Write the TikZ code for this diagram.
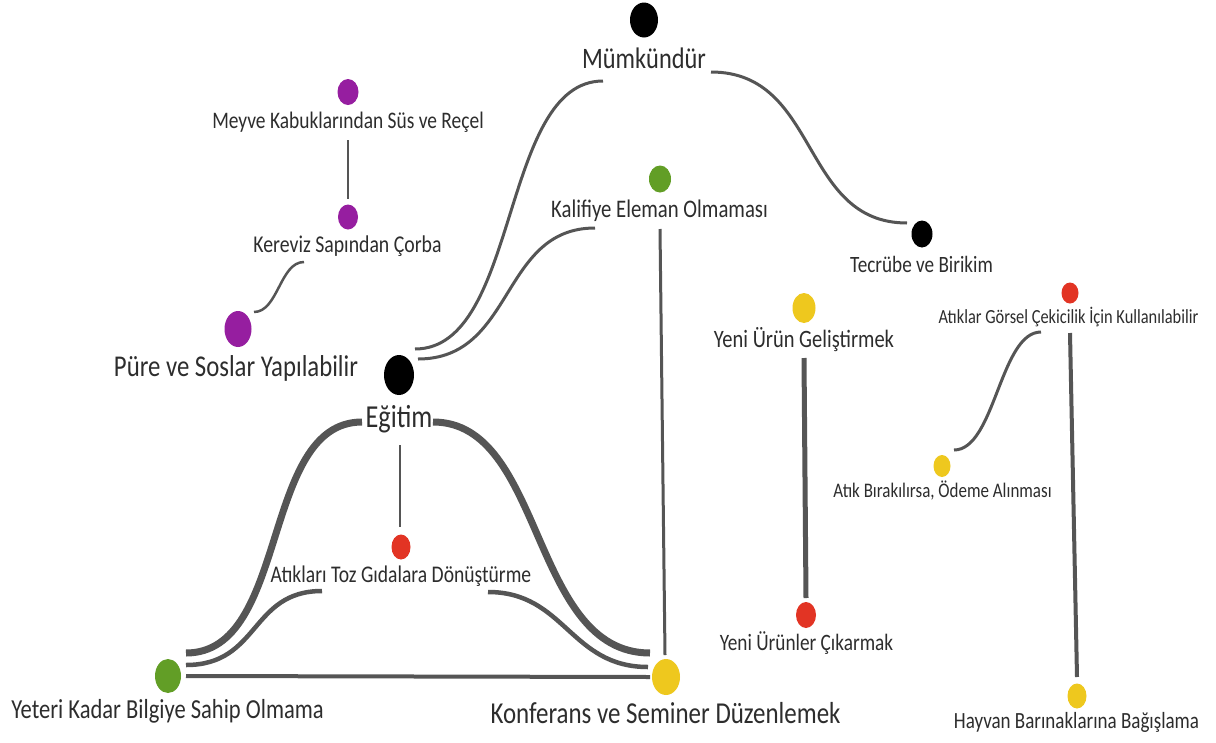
\documentclass[tikz,border=0pt]{standalone}
\usepackage{fontspec}
\setmainfont{Carlito}[FakeStretch=0.82]
\usetikzlibrary{shapes.geometric}
\definecolor{dpurple}{RGB}{150,30,160}
\definecolor{dgreen}{RGB}{98,158,38}
\definecolor{dyellow}{RGB}{238,200,30}
\definecolor{dred}{RGB}{226,52,36}
\definecolor{lgray}{RGB}{85,85,85}
\definecolor{tgray}{RGB}{45,45,45}
\tikzset{
  dot/.style args={#1/#2/#3}{ellipse, draw=none, fill=#1, inner sep=0pt, minimum width=#2pt, minimum height=#3pt},
  lbl/.style={anchor=base, inner sep=0pt, text=tgray, font=\fontsize{#1}{#1}\selectfont},
  conn/.style={draw=lgray, line width=#1pt, line cap=butt},
}
\begin{document}
\begin{tikzpicture}[x=1pt,y=-1pt]
\useasboundingbox[fill=white] (0,0) rectangle (1216,742);

% dots
\node[dot=black/28/35]    (mum)  at (644,20)  {};
\node[dot=dpurple/21/26]  (mey)  at (348,92)  {};
\node[dot=dpurple/20/25]  (ker)  at (348,217) {};
\node[dot=dpurple/27/36]  (pur)  at (238,329) {};
\node[dot=black/30/40]    (egi)  at (399,375) {};
\node[dot=dgreen/22/27]   (kal)  at (660,179) {};
\node[dot=black/21/27]    (tec)  at (922,234) {};
\node[dot=dyellow/23/30]  (yug)  at (804,308) {};
\node[dot=dred/17/21]     (atg)  at (1070,293) {};
\node[dot=dyellow/17/22]  (atb)  at (942,466) {};
\node[dot=dred/20/26]     (yuc)  at (806,615) {};
\node[dot=dred/19/25]     (toz)  at (401,547) {};
\node[dot=dgreen/26/34]   (yet)  at (168,676) {};
\node[dot=dyellow/28/36]  (kon)  at (666,677) {};
\node[dot=dyellow/19/25]  (hay)  at (1077,696) {};

% labels
\node[lbl=29.7] (mumT) at (644,68)  {Mümkündür};
\node[lbl=23.7] (meyT) at (348,128) {Meyve Kabuklarından Süs ve Reçel};
\node[lbl=24.1] (kerT) at (347.5,252) {Kereviz Sapından Çorba};
\node[lbl=30.2] (purT) at (236,376) {Püre ve Soslar Yapılabilir};
\node[lbl=32]   (egiT) at (399,427) {Eğitim};
\node[lbl=25.3] (kalT) at (659.5,217) {Kalifiye Eleman Olmaması};
\node[lbl=23.4] (tecT) at (921.5,272) {Tecrübe ve Birikim};
\node[lbl=25]   (yugT) at (804,347) {Yeni Ürün Geliştirmek};
\node[lbl=20]   (atgT) at (1068.5,323) {Atıklar Görsel Çekicilik İçin Kullanılabilir};
\node[lbl=20.7] (atbT) at (942.5,497) {Atık Bırakılırsa, Ödeme Alınması};
\node[lbl=23.5] (yucT) at (806.5,650) {Yeni Ürünler Çıkarmak};
\node[lbl=23.9] (tozT) at (401,582) {Atıkları Toz Gıdalara Dönüştürme};
\node[lbl=27.5] (yetT) at (167.5,718) {Yeteri Kadar Bilgiye Sahip Olmama};
\node[lbl=30.4] (konT) at (665.5,723) {Konferans ve Seminer Düzenlemek};
\node[lbl=23.2] (hayT) at (1076.5,728) {Hayvan Barınaklarına Bağışlama};

% connector end points
\coordinate (meyB) at (348,140);  \coordinate (kerA) at (348,199);
\coordinate (kerB) at (304,262);  \coordinate (purA) at (254,312);
\coordinate (egiR1) at (415,349); \coordinate (mumL) at (603,81);
\coordinate (egiR2) at (418,359); \coordinate (kalL) at (595,228);
\coordinate (mumR) at (711,72);   \coordinate (tecL) at (907,223);
\coordinate (kalB) at (660,229);  \coordinate (konT1) at (665,655);
\coordinate (yetR) at (186,676);  \coordinate (konL) at (650,677);
\coordinate (egiB) at (400,445);  \coordinate (tozA) at (400,527);
\coordinate (yugB) at (804,358);  \coordinate (yucA) at (806,598);
\coordinate (atgB) at (1070,333); \coordinate (hayA) at (1077,677);
\coordinate (atgL) at (1041,332); \coordinate (atbR) at (954,450);
\coordinate (yetH1) at (186,653); \coordinate (egiLL) at (362,422);
\coordinate (egiRR) at (433,422); \coordinate (konH1) at (650,653);
\coordinate (yetH2) at (186,665); \coordinate (tozL) at (322,591);
\coordinate (tozR) at (488,592);  \coordinate (konH2) at (648,667);

% connectors
\draw[conn=2.5] (meyB) -- (kerA);
\draw[conn=2.5] (kerB) .. controls (280,262) and (278,312) .. (purA);
\draw[conn=3] (egiR1) .. controls (520,349) and (500,81) .. (mumL);
\draw[conn=3] (egiR2) .. controls (515,359) and (500,228) .. (kalL);
\draw[conn=3] (mumR) .. controls (820,72) and (800,223) .. (tecL);
\draw[conn=3] (kalB) -- (konT1);
\draw[conn=4] (yetR) -- (konL);
\draw[conn=2.5] (egiB) -- (tozA);
\draw[conn=5] (yugB) -- (yucA);
\draw[conn=4] (atgB) -- (hayA);
\draw[conn=3] (atgL) .. controls (1000,332) and (995,450) .. (atbR);
\draw[conn=7] (yetH1) .. controls (290,653) and (260,422) .. (egiLL);
\draw[conn=7] (egiRR) .. controls (545,422) and (530,653) .. (konH1);
\draw[conn=4.5] (yetH2) .. controls (260,665) and (250,591) .. (tozL);
\draw[conn=4.5] (tozR) .. controls (565,592) and (570,667) .. (konH2);
\end{tikzpicture}
\end{document}
